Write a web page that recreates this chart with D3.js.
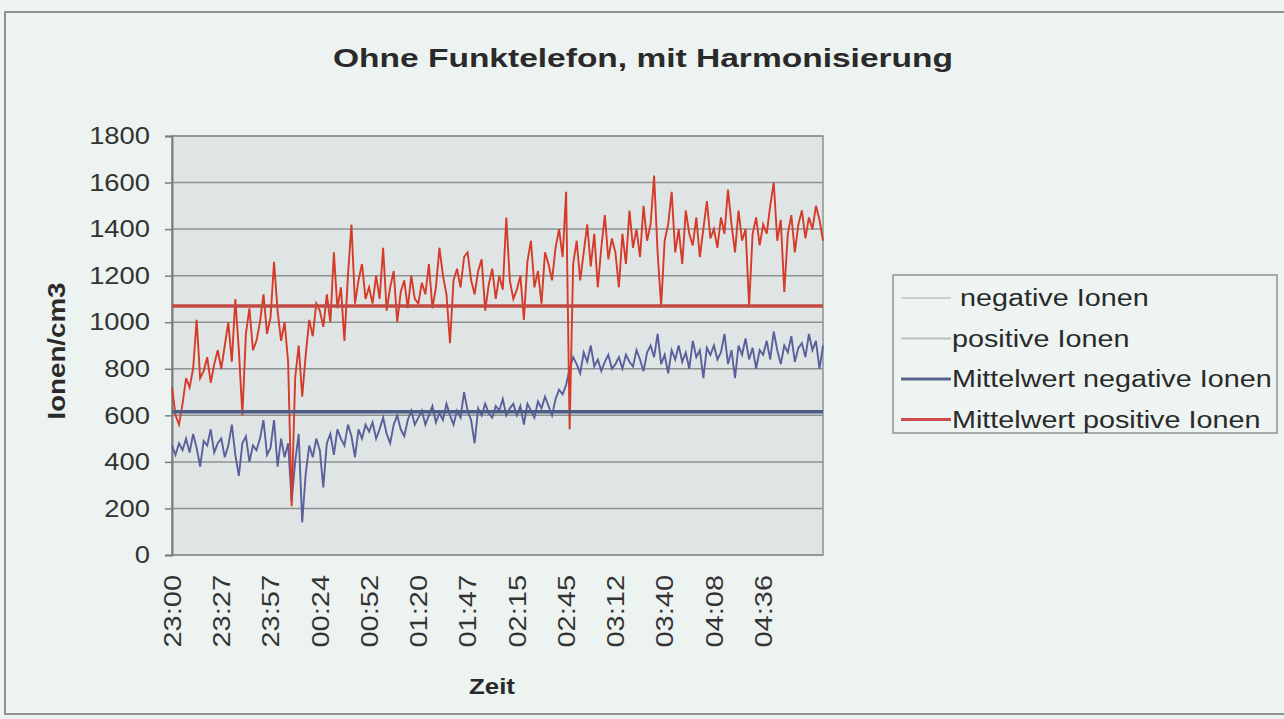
<!DOCTYPE html>
<html>
<head>
<meta charset="utf-8">
<script src="https://cdn.jsdelivr.net/npm/d3@7"></script>
<style>
    body { margin: 0; background: #edf3f0; }
    svg { display: block; font-family: "Liberation Sans", Arial, sans-serif; }
</style>
</head>
<body>
<svg id="chart" width="1284" height="719"></svg>
<script>
// Measured values (readings taken every 2 minutes from 23:00)
var positiveIonen = [
    720, 600, 560, 650, 760, 720, 800, 1010, 760, 790, 850, 740, 820, 880,
    800, 900, 1000, 830, 1100, 880, 600, 950, 1060, 880, 920, 1000, 1120, 950,
    1020, 1260, 1050, 920, 1000, 830, 210, 760, 900, 680, 860, 1010, 940, 1080,
    1050, 980, 1120, 1000, 1300, 1060, 1150, 920, 1200, 1420, 1080, 1180, 1250, 1100,
    1150, 1080, 1200, 1100, 1320, 1050, 1150, 1220, 1000, 1130, 1180, 1060, 1200, 1100,
    1080, 1170, 1120, 1250, 1060, 1150, 1320, 1200, 1120, 910, 1180, 1230, 1150, 1280,
    1300, 1180, 1120, 1220, 1270, 1050, 1160, 1230, 1100, 1200, 1140, 1450, 1180, 1100,
    1140, 1200, 1010, 1260, 1350, 1150, 1220, 1080, 1300, 1250, 1180, 1320, 1400, 1280,
    1560, 540, 1250, 1350, 1180, 1300, 1420, 1240, 1380, 1150, 1320, 1460, 1270, 1360,
    1300, 1150, 1380, 1250, 1480, 1320, 1400, 1280, 1500, 1350, 1420, 1630, 1300, 1070,
    1350, 1420, 1560, 1300, 1400, 1250, 1480, 1380, 1330, 1450, 1280, 1400, 1520, 1360,
    1400, 1320, 1450, 1380, 1570, 1420, 1300, 1480, 1350, 1400, 1070, 1380, 1450, 1330,
    1420, 1380, 1500, 1600, 1350, 1440, 1130, 1380, 1460, 1300, 1420, 1480, 1360, 1450, 1400, 1500, 1440, 1350
];
var negativeIonen = [
    470, 430, 480, 450, 500, 440, 520, 460, 380, 490, 470, 540, 440, 480,
    500, 420, 470, 560, 430, 340, 480, 510, 400, 470, 450, 500, 580, 430,
    460, 580, 380, 500, 420, 480, 230, 400, 520, 140, 350, 470, 420, 500,
    450, 290, 480, 520, 430, 540, 500, 470, 560, 510, 420, 540, 500, 560,
    530, 570, 500, 540, 590, 520, 480, 560, 600, 540, 510, 580, 620, 560,
    590, 620, 560, 600, 640, 570, 610, 580, 650, 600, 560, 620, 590, 700,
    620, 580, 480, 630, 600, 650, 610, 590, 640, 620, 670, 600, 630, 650,
    600, 640, 560, 650, 620, 590, 660, 630, 680, 640, 600, 670, 710, 690,
    730, 800, 850, 820, 780, 870, 830, 900, 810, 840, 790, 830, 860, 800,
    820, 850, 800, 860, 830, 810, 880, 840, 790, 870, 900, 850, 950, 820,
    860, 780, 880, 840, 900, 830, 870, 800, 920, 850, 880, 760, 890, 860,
    900, 840, 870, 950, 820, 880, 760, 900, 860, 930, 840, 890, 800, 880,
    860, 920, 840, 960, 880, 820, 900, 870, 940, 830, 890, 910, 850, 950, 880, 920, 800, 900
];
// Mean values drawn as flat lines
var mittelwertNegativ = 615;
var mittelwertPositiv = 1070;

// Category labels shown on the x axis (every 14th reading)
var zeitLabels = ["23:00", "23:27", "23:57", "00:24", "00:52", "01:20", "01:47",
                  "02:15", "02:45", "03:12", "03:40", "04:08", "04:36"];
var labelStep = 14;
var yTicks = [0, 200, 400, 600, 800, 1000, 1200, 1400, 1600, 1800];

var legendItems = [
    { label: " negative Ionen", color: "#c9cfcf", width: 2 },
    { label: "positive Ionen", color: "#b9bfbf", width: 2 },
    { label: "Mittelwert negative Ionen", color: "#56648c", width: 3 },
    { label: "Mittelwert positive Ionen", color: "#cc4a4a", width: 3 }
];

// The scanned chart uses a wide face; stretch each text to match
function stretch(sel, factor) {
    sel.each(function() {
        var len = this.getComputedTextLength();
        d3.select(this)
            .attr("textLength", len * factor)
            .attr("lengthAdjust", "spacingAndGlyphs");
    });
}

var svg = d3.select("#chart");

// Chart frame
svg.append("rect")
    .attr("x", 5).attr("y", 12)
    .attr("width", 1290).attr("height", 702)
    .attr("fill", "#edf3f0")
    .attr("stroke", "#8e9492")
    .attr("stroke-width", 2);

var plot = { left: 172, right: 823, top: 136, bottom: 555 };

var x = d3.scaleLinear()
    .domain([0, positiveIonen.length - 1])
    .range([plot.left, plot.right]);

var y = d3.scaleLinear()
    .domain([0, 1800])
    .range([plot.bottom, plot.top]);

// Plot area background
svg.append("rect")
    .attr("x", plot.left).attr("y", plot.top)
    .attr("width", plot.right - plot.left)
    .attr("height", plot.bottom - plot.top)
    .attr("fill", "#dfe5e4");

// Horizontal gridlines
svg.append("g")
    .selectAll("line")
    .data(yTicks)
    .enter()
    .append("line")
    .attr("x1", plot.left).attr("x2", plot.right)
    .attr("y1", function(d) { return y(d); })
    .attr("y2", function(d) { return y(d); })
    .attr("stroke", "#8d9393")
    .attr("stroke-width", 1.5);

// Plot area border
svg.append("rect")
    .attr("x", plot.left).attr("y", plot.top)
    .attr("width", plot.right - plot.left)
    .attr("height", plot.bottom - plot.top)
    .attr("fill", "none")
    .attr("stroke", "#8d9393")
    .attr("stroke-width", 1.5);

// Y axis
var yAxis = svg.append("g")
    .attr("transform", "translate(" + plot.left + ",0)")
    .call(d3.axisLeft(y).tickValues(yTicks).tickFormat(d3.format("d")).tickSize(7).tickPadding(15));
yAxis.select(".domain").attr("stroke", "#7a8080").attr("stroke-width", 2);
yAxis.selectAll(".tick line").attr("stroke", "#7a8080").attr("stroke-width", 1.5);
yAxis.selectAll(".tick text")
    .attr("font-size", 24)
    .attr("fill", "#333")
    .call(stretch, 1.14);

// X axis (labels rotated, reading bottom to top)
var tickIdx = zeitLabels.map(function(_, i) { return i * labelStep; });
var xAxis = svg.append("g")
    .attr("transform", "translate(0," + plot.bottom + ")")
    .call(d3.axisBottom(x)
        .tickValues(tickIdx)
        .tickSize(0)
        .tickFormat(function(d) { return zeitLabels[d / labelStep]; }));
xAxis.select(".domain").remove();
xAxis.selectAll(".tick text")
    .attr("font-size", 23)
    .attr("fill", "#333")
    .attr("text-anchor", "end")
    .attr("transform", "rotate(-90)")
    .attr("x", -20)
    .attr("y", 0)
    .attr("dy", "0.36em")
    .call(stretch, 1.26);

// Line generator for the series
var line = d3.line()
    .x(function(d, i) { return x(i); })
    .y(function(d) { return y(d); });

svg.append("path")
    .datum(negativeIonen)
    .attr("d", line)
    .attr("fill", "none")
    .attr("stroke", "#5b5f9c")
    .attr("stroke-width", 1.9);

svg.append("path")
    .datum(positiveIonen)
    .attr("d", line)
    .attr("fill", "none")
    .attr("stroke", "#d63a28")
    .attr("stroke-width", 1.9);

// Mean lines
var means = [
    { v: mittelwertNegativ, color: "#4f5d86" },
    { v: mittelwertPositiv, color: "#c24a44" }
];
svg.append("g")
    .selectAll("line")
    .data(means)
    .enter()
    .append("line")
    .attr("x1", x(0)).attr("x2", x(positiveIonen.length - 1))
    .attr("y1", function(d) { return y(d.v); })
    .attr("y2", function(d) { return y(d.v); })
    .attr("stroke", function(d) { return d.color; })
    .attr("stroke-width", 3.5);

// Title
svg.append("text")
    .attr("x", 643).attr("y", 67)
    .attr("text-anchor", "middle")
    .attr("font-size", 25)
    .attr("font-weight", "bold")
    .attr("fill", "#2a2a2a")
    .text("Ohne Funktelefon, mit Harmonisierung")
    .attr("textLength", 620)
    .attr("lengthAdjust", "spacingAndGlyphs");

// Axis titles
svg.append("text")
    .attr("transform", "translate(65,351) rotate(-90)")
    .attr("text-anchor", "middle")
    .attr("font-size", 23)
    .attr("font-weight", "bold")
    .attr("fill", "#2a2a2a")
    .text("Ionen/cm3")
    .attr("textLength", 137)
    .attr("lengthAdjust", "spacingAndGlyphs");

svg.append("text")
    .attr("x", 492).attr("y", 694)
    .attr("text-anchor", "middle")
    .attr("font-size", 22)
    .attr("font-weight", "bold")
    .attr("fill", "#2a2a2a")
    .text("Zeit")
    .attr("textLength", 46)
    .attr("lengthAdjust", "spacingAndGlyphs");

// Legend
var legend = svg.append("g").attr("transform", "translate(893,275)");
legend.append("rect")
    .attr("width", 384).attr("height", 158)
    .attr("fill", "#eef4f1")
    .attr("stroke", "#8e9492")
    .attr("stroke-width", 1.5);

var rows = legend.selectAll(".legend-row")
    .data(legendItems)
    .enter()
    .append("g")
    .attr("class", "legend-row")
    .attr("transform", function(_, i) { return "translate(0," + (23 + i * 40.5) + ")"; });

rows.append("line")
    .attr("x1", 8).attr("x2", 58)
    .attr("stroke", function(d) { return d.color; })
    .attr("stroke-width", function(d) { return d.width; });

rows.append("text")
    .attr("x", 59)
    .attr("dy", "0.36em")
    .attr("font-size", 23)
    .attr("fill", "#2a2a2a")
    .attr("xml:space", "preserve")
    .style("white-space", "pre")
    .text(function(d) { return d.label; })
    .call(stretch, 1.25);
</script>
</body>
</html>
